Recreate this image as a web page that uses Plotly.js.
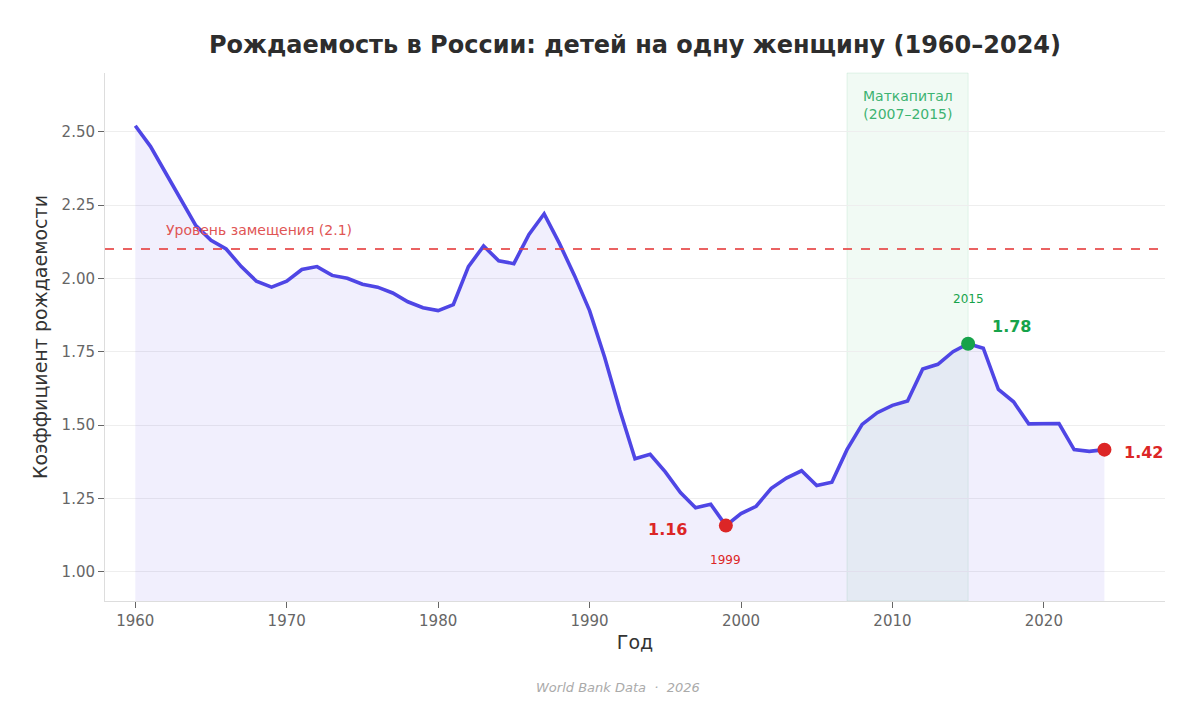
<!DOCTYPE html>
<html><head><meta charset="utf-8">
<script src="https://cdn.plot.ly/plotly-3.0.1.min.js"></script>
<style>html,body{margin:0;padding:0;background:#fff}#chart{width:1200px;height:727px}</style>
</head><body><div id="chart"></div>
<script>
const years = [];
for (let y = 1960; y <= 2024; y++) years.push(y);
const fertility = [
  2.52, 2.45, 2.36, 2.27, 2.18, 2.13, 2.10, 2.04, 1.99, 1.97,
  1.99, 2.03, 2.04, 2.01, 2.00, 1.98, 1.97, 1.95, 1.92, 1.90,
  1.89, 1.91, 2.04, 2.11, 2.06, 2.05, 2.15, 2.22, 2.12, 2.01,
  1.89, 1.73, 1.55, 1.385, 1.40, 1.34, 1.27, 1.218, 1.23, 1.157,
  1.198, 1.223, 1.284, 1.319, 1.344, 1.294, 1.305, 1.416, 1.502, 1.542,
  1.567, 1.582, 1.691, 1.707, 1.750, 1.777, 1.762, 1.621, 1.579, 1.504,
  1.505, 1.505, 1.416, 1.410, 1.416
];
const replacementLevel = 2.1;
const matcapStart = 2007, matcapEnd = 2015;
const minYear = 1999, peakYear = 2015, lastYear = 2024;
const val = y => fertility[years.indexOf(y)];

const font = "DejaVu Sans, sans-serif";
const traces = [
  {
    x: years, y: fertility, type: 'scatter', mode: 'lines',
    line: {color: '#4f46e5', width: 3.6},
    fill: 'tozeroy', fillcolor: 'rgba(99,82,230,0.09)',
    hoverinfo: 'x+y', showlegend: false
  },
  {
    x: [minYear, lastYear], y: [val(minYear), val(lastYear)], type: 'scatter', mode: 'markers',
    marker: {color: '#dc2626', size: 14}, showlegend: false
  },
  {
    x: [peakYear], y: [val(peakYear)], type: 'scatter', mode: 'markers',
    marker: {color: '#16a34a', size: 14}, showlegend: false
  }
];

const layout = {
  width: 1200, height: 727,
  paper_bgcolor: '#fff', plot_bgcolor: '#fff',
  margin: {l: 105, r: 35, t: 73, b: 126},
  font: {family: font, color: '#444'},
  title: {text: '<b>Рождаемость в России: детей на одну женщину (1960–2024)</b>',
          font: {size: 24, color: '#2d2d2d', family: font}, x: 0.5, xanchor: 'center', y: 0.938, yanchor: 'middle',
          xref: 'paper', yref: 'container'},
  xaxis: {
    range: [1958, 2028], tickmode: 'array', tickvals: [1960,1970,1980,1990,2000,2010,2020],
    showgrid: false, zeroline: false, showline: true, linecolor: '#ddd', linewidth: 1,
    ticks: 'outside', ticklen: 6, tickcolor: '#666',
    tickfont: {size: 15, color: '#666', family: font},
    title: {text: 'Год', font: {size: 19, color: '#333', family: font}, standoff: 6}
  },
  yaxis: {
    range: [0.9, 2.7], tickmode: 'array', tickvals: [1.0,1.25,1.5,1.75,2.0,2.25,2.5],
    tickformat: '.2f', showgrid: true, gridcolor: '#eeeeee', gridwidth: 1,
    zeroline: false, showline: true, linecolor: '#ddd', linewidth: 1,
    ticks: 'outside', ticklen: 6, tickcolor: '#666',
    tickfont: {size: 15, color: '#666', family: font},
    title: {text: 'Коэффициент рождаемости', font: {size: 19, color: '#333', family: font}, standoff: 8}
  },
  shapes: [
    {type: 'rect', xref: 'x', yref: 'paper', x0: matcapStart, x1: matcapEnd, y0: 0, y1: 1,
     fillcolor: 'rgba(22,163,74,0.06)', line: {color: 'rgba(22,163,74,0.10)', width: 1}, layer: 'below'},
    {type: 'line', xref: 'paper', yref: 'y', x0: 0, x1: 1, y0: replacementLevel, y1: replacementLevel,
     line: {color: 'rgba(230,70,70,0.85)', width: 2, dash: 'dash'}}
  ],
  annotations: [
    {xref: 'x', yref: 'y', x: 1961.9, y: replacementLevel, xanchor: 'left', yanchor: 'bottom', yshift: 9,
     text: 'Уровень замещения (2.1)', showarrow: false, font: {size: 14, color: '#e05555', family: font}},
    {xref: 'x', yref: 'paper', x: (matcapStart + matcapEnd) / 2, y: 0.975, yanchor: 'top',
     text: 'Маткапитал<br>(2007–2015)', showarrow: false, font: {size: 14, color: '#3cb371', family: font}},
    {xref: 'x', yref: 'y', x: minYear, y: val(minYear), xanchor: 'right', yanchor: 'middle', xshift: -37, yshift: -4,
     text: '<b>1.16</b>', showarrow: false, font: {size: 16, color: '#dc2626', family: font}},
    {xref: 'x', yref: 'y', x: minYear, y: val(minYear), yanchor: 'middle', yshift: -34,
     text: '1999', showarrow: false, font: {size: 12, color: '#dc2626', family: font}},
    {xref: 'x', yref: 'y', x: peakYear, y: val(peakYear), yanchor: 'middle', yshift: 45,
     text: '2015', showarrow: false, font: {size: 12, color: '#16a34a', family: font}},
    {xref: 'x', yref: 'y', x: peakYear, y: val(peakYear), xanchor: 'left', yanchor: 'middle', xshift: 22, yshift: 17,
     text: '<b>1.78</b>', showarrow: false, font: {size: 16, color: '#16a34a', family: font}},
    {xref: 'x', yref: 'y', x: lastYear, y: val(lastYear), xanchor: 'left', yanchor: 'middle', xshift: 18, yshift: -3,
     text: '<b>1.42</b>', showarrow: false, font: {size: 16, color: '#dc2626', family: font}},
    {xref: 'paper', yref: 'paper', x: 0.484, y: -0.163, yanchor: 'middle',
     text: '<i>World Bank Data  ·  2026</i>', showarrow: false, font: {size: 13, color: '#aaaaaa', family: font}}
  ]
};
Plotly.newPlot('chart', traces, layout, {displayModeBar: false, responsive: false});
</script></body></html>
